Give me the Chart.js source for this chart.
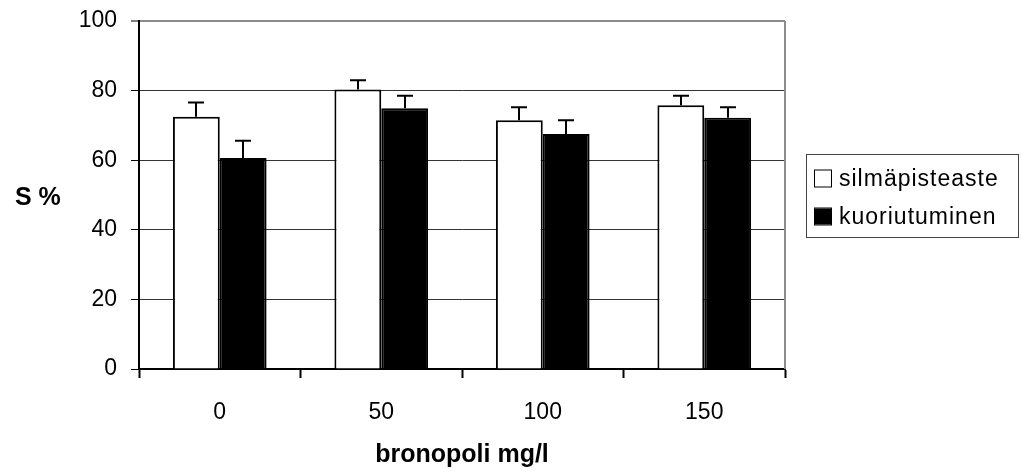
<!DOCTYPE html>
<html>
<head>
<meta charset="utf-8">
<script src="https://cdn.jsdelivr.net/npm/chart.js@4/dist/chart.umd.min.js"></script>
<style>
  html, body { margin: 0; padding: 0; background: #fff; }
  #wrap { width: 1021px; height: 472px; }
</style>
</head>
<body>
<div id="wrap"><canvas id="chart" width="1021" height="472"></canvas></div>
<script>
// bronopol dose groups (mg/l)
const doses = ['0', '50', '100', '150'];
const seriesNames = ['silmäpisteaste', 'kuoriutuminen'];
const eyedValues = [72.5, 80.3, 71.5, 75.8];
const eyedErrors = [4.1, 2.7, 3.7, 2.7];
const hatchValues = [60.6, 74.9, 67.5, 72.2];
const hatchErrors = [5.0, 3.6, 4.0, 3.0];
const yTicks = [0, 20, 40, 60, 80, 100];

const FONT = '"Liberation Sans", Arial, Helvetica, sans-serif';

// upward error whiskers on top of every bar
const errorBars = {
  id: 'errorBars',
  afterDatasetsDraw(chart) {
    const ctx = chart.ctx;
    const y = chart.scales.y;
    ctx.save();
    ctx.strokeStyle = '#000';
    ctx.lineWidth = 2;
    chart.data.datasets.forEach((ds, i) => {
      const meta = chart.getDatasetMeta(i);
      meta.data.forEach((bar, j) => {
        const top = y.getPixelForValue(ds.data[j] + ds.errors[j]);
        const base = y.getPixelForValue(ds.data[j]);
        const x = Math.round(bar.x);
        ctx.beginPath();
        ctx.moveTo(x, base);
        ctx.lineTo(x, top);
        ctx.moveTo(x - 8, top);
        ctx.lineTo(x + 8, top);
        ctx.stroke();
      });
    });
    ctx.restore();
  }
};

// plot frame on the right, horizontal y title and boxed legend
const decorations = {
  id: 'decorations',
  afterDraw(chart) {
    const ctx = chart.ctx;
    const a = chart.chartArea;
    ctx.save();
    ctx.strokeStyle = '#8c8c8c';
    ctx.lineWidth = 2;
    ctx.beginPath();
    ctx.moveTo(a.right, a.top);
    ctx.lineTo(a.right, a.bottom);
    ctx.stroke();

    ctx.fillStyle = '#000';
    ctx.font = 'bold 25px ' + FONT;
    ctx.textAlign = 'left';
    ctx.textBaseline = 'alphabetic';
    ctx.fillText('S %', 15, 205);

    // legend
    const lx = 806, ly = 154, lw = 212, lh = 83;
    ctx.strokeStyle = '#444';
    ctx.lineWidth = 1;
    ctx.strokeRect(lx + 0.5, ly + 0.5, lw, lh);
    ctx.font = '23px ' + FONT;
    if ('letterSpacing' in ctx) ctx.letterSpacing = '1px';
    chart.data.datasets.forEach((ds, i) => {
      const cy = 178.5 + i * 38;
      ctx.fillStyle = ds.backgroundColor;
      ctx.fillRect(815, cy - 8, 16, 16);
      ctx.strokeStyle = '#000';
      ctx.lineWidth = 1;
      ctx.strokeRect(814.5, cy - 8.5, 17, 17);
      ctx.fillStyle = '#000';
      ctx.textBaseline = 'middle';
      ctx.fillText(ds.label, 839, cy + 1);
    });
    ctx.restore();
  }
};

new Chart(document.getElementById('chart').getContext('2d'), {
  type: 'bar',
  data: {
    labels: doses,
    datasets: [{
      label: seriesNames[0],
      data: eyedValues,
      errors: eyedErrors,
      backgroundColor: '#ffffff',
      borderColor: '#000000',
      borderWidth: 2
    }, {
      label: seriesNames[1],
      data: hatchValues,
      errors: hatchErrors,
      backgroundColor: '#000000',
      borderColor: '#000000',
      borderWidth: 2
    }]
  },
  options: {
    responsive: false,
    animation: false,
    layout: { padding: { top: 21, right: 236, left: 0, bottom: 0 } },
    plugins: {
      legend: { display: false },
      tooltip: { enabled: false }
    },
    datasets: {
      bar: { categoryPercentage: 0.58, barPercentage: 1.0 }
    },
    scales: {
      x: {
        grid: {
          offset: true,
          drawOnChartArea: false,
          tickLength: 9,
          tickColor: '#000',
          tickWidth: 2
        },
        border: { color: '#000', width: 2 },
        ticks: {
          color: '#000',
          font: { family: FONT, size: 23 },
          padding: 21
        },
        title: {
          display: true,
          text: 'bronopoli mg/l',
          color: '#000',
          font: { family: FONT, size: 25, weight: 'bold' },
          padding: { top: 14, bottom: 2 }
        },
        afterFit(scale) {
          scale.height = 103;
          scale.paddingLeft = 0;
          scale.paddingRight = 0;
        }
      },
      y: {
        min: 0,
        max: 100,
        afterBuildTicks(scale) { scale.ticks = yTicks.map(v => ({ value: v })); },
        grid: {
          color: ctx => ctx.tick && ctx.tick.value === 100 ? '#8c8c8c' : '#333',
          lineWidth: ctx => ctx.tick && ctx.tick.value === 100 ? 2 : 1,
          tickLength: 8,
          tickColor: '#000',
          tickWidth: 1
        },
        border: { color: '#000', width: 2 },
        ticks: {
          color: '#000',
          font: { family: FONT, size: 23 },
          padding: 14
        },
        afterFit(scale) {
          scale.width = 139;
          scale.paddingTop = 0;
          scale.paddingBottom = 0;
        }
      }
    }
  },
  plugins: [errorBars, decorations]
});
</script>
</body>
</html>
